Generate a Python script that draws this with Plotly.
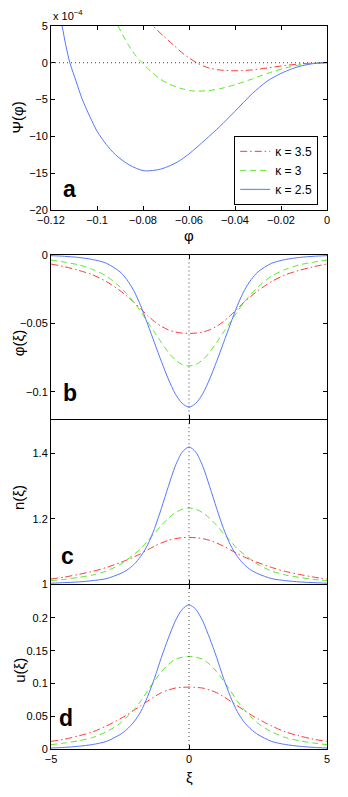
import plotly.graph_objects as go

# ── Data ──────────────────────────────────────────────────────────────────────
KAPPA_NAMES = ["κ = 3.5", "κ = 3", "κ = 2.5"]

# panel a: Sagdeev potential, Psi in units of 1e-4
PHI_A_35 = [-0.0775, -0.0755, -0.071, -0.0667, -0.062, -0.0566, -0.0523, -0.0467,
            -0.0396, -0.0325, -0.0254, -0.0183, -0.0112, -0.0056, 0.0]
PSI_A_35 = [6.0, 5.0, 3.6, 2.4, 1.1, 0.0, -0.62, -0.98,
            -1.09, -0.97, -0.68, -0.38, -0.15, -0.04, 0.0]

PHI_A_3 = [-0.0925, -0.0908, -0.0865, -0.0835, -0.0804, -0.0765, -0.073, -0.069,
           -0.064, -0.058, -0.052, -0.0467, -0.0396, -0.0325, -0.0254, -0.0183,
           -0.0112, -0.0056, 0.0]
PSI_A_3 = [6.3, 5.0, 2.5, 1.1, 0.0, -1.2, -2.1, -2.85,
           -3.45, -3.85, -3.8, -3.55, -2.95, -2.2, -1.4, -0.73,
           -0.27, -0.07, 0.0]

PHI_A_25 = [-0.117, -0.1152, -0.1135, -0.1118, -0.109, -0.1065, -0.103, -0.100,
            -0.096, -0.092, -0.086, -0.0795, -0.072, -0.065, -0.060, -0.053,
            -0.0467, -0.040, -0.0325, -0.026, -0.020, -0.015, -0.011, -0.006,
            -0.003, 0.0]
PSI_A_25 = [7.6, 5.0, 2.3, 0.0, -2.6, -4.9, -7.4, -9.3,
            -11.1, -12.5, -13.9, -14.7, -14.45, -13.5, -12.4, -10.5,
            -8.7, -6.6, -4.2, -2.5, -1.45, -0.8, -0.42, -0.12,
            -0.03, 0.0]

# panels b-d: profiles against xi
XI = [-5, -4.5, -4, -3.5, -3, -2.5, -2.25, -2, -1.75, -1.5, -1.25, -1, -0.75, -0.5, -0.25, 0,
      0.25, 0.5, 0.75, 1, 1.25, 1.5, 1.75, 2, 2.25, 2.5, 3, 3.5, 4, 4.5, 5]

PHI_35 = [-0.0068, -0.0088, -0.0114, -0.0146, -0.0195, -0.0262, -0.0302, -0.0345, -0.0395,
          -0.0443, -0.0487, -0.0522, -0.0547, -0.0563, -0.0571, -0.0573,
          -0.0571, -0.0563, -0.0547, -0.0522, -0.0487, -0.0443, -0.0395, -0.0345,
          -0.0302, -0.0262, -0.0195, -0.0146, -0.0114, -0.0088, -0.0068]
PHI_3 = [-0.0039, -0.0055, -0.0074, -0.0107, -0.0155, -0.0235, -0.0287, -0.0345, -0.0415,
         -0.049, -0.0565, -0.064, -0.071, -0.0765, -0.080, -0.081,
         -0.080, -0.0765, -0.071, -0.064, -0.0565, -0.049, -0.0415, -0.0345,
         -0.0287, -0.0235, -0.0155, -0.0107, -0.0074, -0.0055, -0.0039]
PHI_25 = [-0.0007, -0.0012, -0.0020, -0.0035, -0.0062, -0.0125, -0.0182, -0.0262, -0.0372,
          -0.0505, -0.0642, -0.0778, -0.0905, -0.1012, -0.1082, -0.111,
          -0.1082, -0.1012, -0.0905, -0.0778, -0.0642, -0.0505, -0.0372, -0.0262,
          -0.0182, -0.0125, -0.0062, -0.0035, -0.0020, -0.0012, -0.0007]

N_35 = [1.016, 1.022, 1.030, 1.039, 1.051, 1.066, 1.074, 1.083, 1.093,
        1.105, 1.116, 1.126, 1.134, 1.139, 1.142, 1.143,
        1.142, 1.139, 1.134, 1.126, 1.116, 1.105, 1.093, 1.083,
        1.074, 1.066, 1.051, 1.039, 1.030, 1.022, 1.016]
N_3 = [1.011, 1.015, 1.021, 1.028, 1.040, 1.060, 1.075, 1.091, 1.108,
       1.132, 1.155, 1.180, 1.201, 1.218, 1.229, 1.233,
       1.229, 1.218, 1.201, 1.180, 1.155, 1.132, 1.108, 1.091,
       1.075, 1.060, 1.040, 1.028, 1.021, 1.015, 1.011]
N_25 = [1.003, 1.005, 1.007, 1.011, 1.017, 1.032, 1.043, 1.060, 1.085,
        1.120, 1.170, 1.232, 1.298, 1.360, 1.403, 1.419,
        1.403, 1.360, 1.298, 1.232, 1.170, 1.120, 1.085, 1.060,
        1.043, 1.032, 1.017, 1.011, 1.007, 1.005, 1.003]

U_35 = [0.0116, 0.015, 0.020, 0.026, 0.035, 0.046, 0.052, 0.059, 0.066,
        0.073, 0.080, 0.086, 0.090, 0.093, 0.094, 0.0945,
        0.094, 0.093, 0.090, 0.086, 0.080, 0.073, 0.066, 0.059,
        0.052, 0.046, 0.035, 0.026, 0.020, 0.015, 0.0116]
U_3 = [0.0066, 0.0092, 0.0125, 0.0175, 0.026, 0.039, 0.049, 0.060, 0.073,
       0.089, 0.104, 0.118, 0.129, 0.137, 0.140, 0.1414,
       0.140, 0.137, 0.129, 0.118, 0.104, 0.089, 0.073, 0.060,
       0.049, 0.039, 0.026, 0.0175, 0.0125, 0.0092, 0.0066]
U_25 = [0.0015, 0.0025, 0.0042, 0.0068, 0.0115, 0.022, 0.030, 0.041, 0.057,
        0.080, 0.108, 0.140, 0.169, 0.195, 0.213, 0.220,
        0.213, 0.195, 0.169, 0.140, 0.108, 0.080, 0.057, 0.041,
        0.030, 0.022, 0.0115, 0.0068, 0.0042, 0.0025, 0.0015]

# ── Style ─────────────────────────────────────────────────────────────────────
_FONT = "Liberation Sans, Arial, sans-serif"
_RED, _GREEN, _BLUE = "#ff3838", "#5ae828", "#5577ff"
STYLES = [dict(color=_RED, width=1, dash="7px,3px,1.5px,3px"),
          dict(color=_GREEN, width=1, dash="6px,4px"),
          dict(color=_BLUE, width=1)]

# page geometry: the figure div sits 8px in from the page corner (body margin)
OFF = 8
W, H = 348 - OFF, 797 - OFF
PX0, PX1, PY0, PY1 = 45, 327, 25, 749          # plot area in page pixels
L, T = PX0 - OFF, PY0 - OFF
R = W - (PX1 - OFF)
B = H - (PY1 - OFF)


def ypap(py):
    return (PY1 - py) / (PY1 - PY0)


def xpap(px):
    return (px - PX0) / (PX1 - PX0)


fig = go.Figure()

# panel a
for name, x, y, st in zip(KAPPA_NAMES, [PHI_A_35, PHI_A_3, PHI_A_25],
                          [PSI_A_35, PSI_A_3, PSI_A_25], STYLES):
    fig.add_trace(go.Scatter(x=x, y=y, mode="lines", name=name,
                             line=dict(shape="spline", smoothing=0.8, **st),
                             xaxis="x", yaxis="y", showlegend=True))

# panels b, c, d
panels = [(PHI_35, PHI_3, PHI_25), (N_35, N_3, N_25), (U_35, U_3, U_25)]
for i, series in enumerate(panels, start=2):
    for y, st in zip(series, STYLES):
        fig.add_trace(go.Scatter(x=XI, y=y, mode="lines",
                                 line=dict(shape="spline", smoothing=0.8, **st),
                                 xaxis=f"x{i}", yaxis=f"y{i}", showlegend=False))

ax_common = dict(showline=True, linecolor="black", linewidth=1, mirror="ticks",
                 ticks="inside", ticklen=4, tickcolor="black", showgrid=False,
                 zeroline=False, tickfont=dict(family=_FONT, size=11, color="black"))

# stacked panels leave a 1px gap so the shared border lines fall on the same row
dom_a = [ypap(209), ypap(25)]
dom_b = [ypap(419), ypap(254)]
dom_c = [ypap(584), ypap(420)]
dom_d = [ypap(749), ypap(585)]

fig.update_layout(
    width=W, height=H,
    margin=dict(l=L, r=R, t=T, b=B),
    plot_bgcolor="white", paper_bgcolor="white",
    font=dict(family=_FONT, size=11, color="black"),
    xaxis=dict(domain=[0, 1], range=[-0.12, 0],
               tickvals=[-0.12, -0.1, -0.08, -0.06, -0.04, -0.02, 0],
               anchor="y", **ax_common),
    yaxis=dict(domain=dom_a, range=[-20, 5], tickvals=[-20, -15, -10, -5, 0, 5],
               anchor="x", **ax_common),
    xaxis2=dict(domain=[0, 1], range=[-5, 5], tickvals=[-5, 0, 5], showticklabels=False,
                anchor="y2", **ax_common),
    yaxis2=dict(domain=dom_b, range=[-0.12, 0], tickvals=[-0.1, -0.05, 0],
                anchor="x2", **ax_common),
    xaxis3=dict(domain=[0, 1], range=[-5, 5], tickvals=[-5, 0, 5], showticklabels=False,
                anchor="y3", **ax_common),
    yaxis3=dict(domain=dom_c, range=[1, 1.5], tickvals=[1, 1.2, 1.4],
                anchor="x3", **ax_common),
    xaxis4=dict(domain=[0, 1], range=[-5, 5], tickvals=[-5, 0, 5], anchor="y4", **ax_common),
    yaxis4=dict(domain=dom_d, range=[0, 0.25], tickvals=[0, 0.05, 0.1, 0.15, 0.2],
                anchor="x4", **ax_common),
    legend=dict(x=xpap(318), y=ypap(135), xanchor="right", yanchor="top",
                bgcolor="white", bordercolor="black", borderwidth=1,
                font=dict(family=_FONT, size=12, color="black"),
                tracegroupgap=0, itemwidth=30),
    showlegend=True,
)

# dotted reference lines
fig.add_shape(type="line", xref="x", yref="y", x0=-0.12, x1=0, y0=0, y1=0,
              line=dict(color="#444", width=1, dash="1px,3px"))
for i, (y0, y1) in zip((2, 3, 4), [(-0.12, 0), (1, 1.5), (0, 0.25)]):
    fig.add_shape(type="line", xref=f"x{i}", yref=f"y{i}", x0=0, x1=0, y0=y0, y1=y1,
                  line=dict(color="#444", width=1, dash="1px,3px"))


def _label(txt, px, py, size, **kw):
    return dict(text=txt, x=xpap(px), y=ypap(py), xref="paper", yref="paper",
                xanchor="center", yanchor="middle", showarrow=False,
                font=dict(family=_FONT, size=size, color="black"), **kw)


ann = []
for txt, px, py in [("a", 64, 188), ("b", 64, 393), ("c", 62, 556), ("d", 60, 718)]:
    ann.append(_label(f"<b>{txt}</b>", px, py, 23))
for txt, px, py in [("Ψ(φ)", 11, 117), ("φ(ξ)", 12, 343), ("n(ξ)", 12, 497), ("u(ξ)", 12, 670)]:
    ann.append(_label(txt, px, py, 15, textangle=-90))
ann.append(_label("φ", 186, 235, 15))
ann.append(_label("ξ", 186, 778, 15))
ann.append(dict(text="x 10<sup>−4</sup>", x=xpap(45), y=ypap(23), xref="paper", yref="paper",
                xanchor="left", yanchor="bottom", showarrow=False,
                font=dict(family=_FONT, size=11, color="black")))
fig.update_layout(annotations=ann)

fig.write_html("out.html")
